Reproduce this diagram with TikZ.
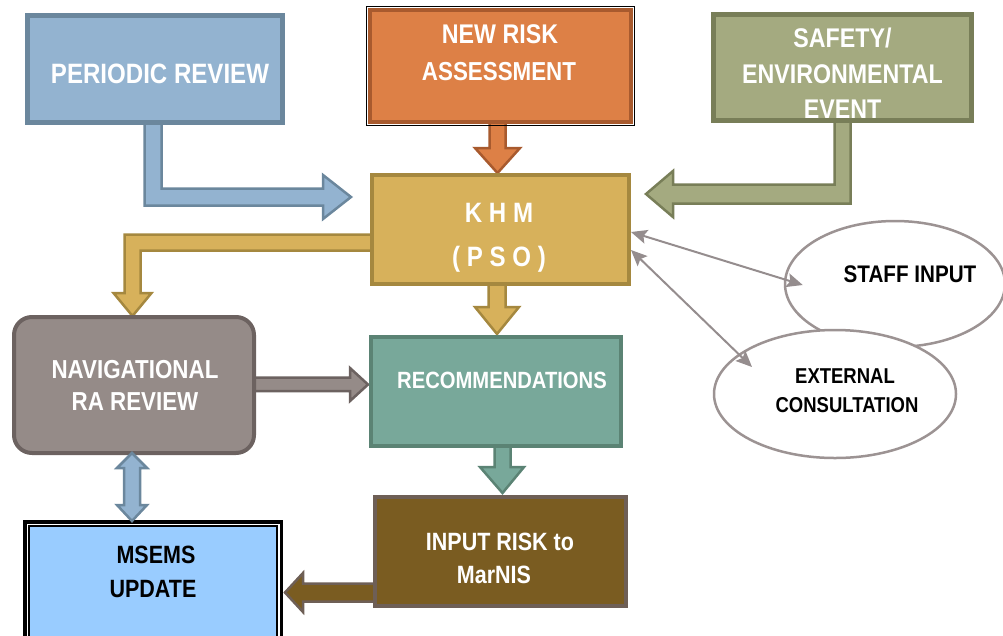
\documentclass[tikz,border=0pt]{standalone}
\usepackage{fontspec}
\newfontfamily\labfont{Liberation Sans}[FakeStretch=0.86]
\usetikzlibrary{arrows.meta,calc,shapes.geometric}

\definecolor{perFill}{HTML}{93B3D0}\definecolor{perLine}{HTML}{6B879D}
\definecolor{newFill}{HTML}{DD8046}\definecolor{newLine}{HTML}{A85A2E}
\definecolor{khmFill}{HTML}{D7B15B}\definecolor{khmLine}{HTML}{A5883F}
\definecolor{safFill}{HTML}{A4AA80}\definecolor{safLine}{HTML}{787E58}
\definecolor{navFill}{HTML}{958B88}\definecolor{navLine}{HTML}{6C6260}
\definecolor{recFill}{HTML}{78A89A}\definecolor{recLine}{HTML}{5B8374}
\definecolor{inpFill}{HTML}{7A5C21}\definecolor{inpLine}{HTML}{6E5F56}
\definecolor{msFill}{HTML}{99CCFF}
\definecolor{ovalLine}{HTML}{9C9393}
\definecolor{linkGrey}{HTML}{958D8E}

\newcommand{\lblsize}[1]{\fontsize{#1}{#1}\selectfont}

\begin{document}
\begin{tikzpicture}[x=1pt,y=-1pt,
  box/.style={draw, rectangle, line width=4pt, inner sep=0pt},
  lbl/.style={font=\labfont\bfseries, text=white, anchor=base, inner sep=0pt},
  dark/.style={lbl, text=black},
  blk/.style={line width=2.5pt, line join=miter},
  oval/.style={draw=ovalLine, fill=white, ellipse, line width=2.5pt, inner sep=0pt},
  link/.style={draw=linkGrey, line width=2pt,
    {Stealth[length=16pt,width=14pt,inset=3pt]}-{Stealth[length=16pt,width=14pt,inset=3pt]}}
]
\useasboundingbox (0,0) rectangle (1003,635);
\clip (0,0) rectangle (1003,635);

% ---- block arrows running under the boxes ----
% periodic review -> KHM
\filldraw[blk, draw=perLine, fill=perFill]
  (144.5,120) -- (144.5,205.5) -- (323,205.5) -- (323,219) -- (351,197)
  -- (323,175) -- (323,188.5) -- (161.5,188.5) -- (161.5,120) -- cycle;
% new risk assessment -> KHM
\filldraw[blk, draw=newLine, fill=newFill]
  (489.5,120) -- (489.5,148) -- (475,148) -- (497.5,173) -- (520,148)
  -- (505.5,148) -- (505.5,120) -- cycle;
% safety event -> KHM
\filldraw[blk, draw=safLine, fill=safFill]
  (850.5,118) -- (850.5,203.5) -- (673,203.5) -- (673,217) -- (646,194)
  -- (673,171) -- (673,184.5) -- (834.5,184.5) -- (834.5,118) -- cycle;
% KHM -> navigational review
\filldraw[blk, draw=khmLine, fill=khmFill]
  (375,234.5) -- (124.5,234.5) -- (124.5,293) -- (113.5,293) -- (132.5,316)
  -- (151.5,293) -- (140.5,293) -- (140.5,250.5) -- (375,250.5) -- cycle;
% KHM -> recommendations
\filldraw[blk, draw=khmLine, fill=khmFill]
  (488.5,282) -- (488.5,307) -- (475,307) -- (497,334) -- (519,307)
  -- (505.5,307) -- (505.5,282) -- cycle;
% navigational review -> recommendations
\filldraw[blk, draw=navLine, fill=navFill]
  (250,377.5) -- (350,377.5) -- (350,368) -- (368,384.5) -- (350,401)
  -- (350,391) -- (250,391) -- cycle;
% recommendations -> input risk
\filldraw[blk, draw=recLine, fill=recFill]
  (494.5,444) -- (494.5,467) -- (480,467) -- (502.5,493) -- (524,467)
  -- (510.5,467) -- (510.5,444) -- cycle;
% input risk -> MSEMS update
\filldraw[blk, draw=inpLine, fill=inpFill]
  (378,583.5) -- (303,583.5) -- (303,573) -- (285,592.5) -- (303,612)
  -- (303,601.5) -- (378,601.5) -- cycle;

% ---- boxes ----
\node[box, draw=perLine, fill=perFill, line width=5pt, minimum width=255pt, minimum height=107pt] (per) at (155,69) {};
\node[box, draw=newLine, fill=newFill, minimum width=261pt, minimum height=112pt] (newr) at (500.5,66) {};
\draw[black, line width=1.8pt] ($(newr.north west)+(-1.5,-1.5)$) rectangle ($(newr.south east)+(1.5,1.5)$);
\node[box, draw=khmLine, fill=khmFill, minimum width=257pt, minimum height=109pt] (khm) at (500.5,229.5) {};
\node[box, draw=safLine, fill=safFill, line width=5pt, minimum width=258pt, minimum height=106pt] (saf) at (842.5,67.5) {};
\node[box, draw=navLine, fill=navFill, rounded corners=18pt, minimum width=240pt, minimum height=136pt] (nav) at (134,385) {};
\node[box, draw=recLine, fill=recFill, minimum width=250pt, minimum height=109pt] (rec) at (496,391.5) {};
\node[box, draw=inpLine, fill=inpFill, minimum width=251pt, minimum height=109pt] (inp) at (500.5,551.5) {};
% MSEMS box: heavy outer rule, white gap, thin inner rule
\node[draw=black, line width=3.5pt, fill=white, rectangle, inner sep=0pt,
      minimum width=256.5pt, minimum height=130pt] (ms) at (153,586.75) {};
\draw[black, fill=msFill, line width=2pt] ($(ms.north west)+(6,6)$) rectangle ($(ms.south east)+(-6,-6)$);

% navigational review <-> MSEMS update
\filldraw[blk, draw=perLine, fill=perFill]
  (132,453) -- (147,468) -- (140,468) -- (140,505) -- (147,505) -- (132,521)
  -- (117,505) -- (124,505) -- (124,468) -- (117,468) -- cycle;

% ---- consultation ovals ----
\node[oval, minimum width=220pt, minimum height=126pt] (staff) at (895,284) {};
\node[oval, minimum width=242pt, minimum height=128pt] (ext) at (835,394) {};

% ---- thin two-way links ----
\draw[link] ([yshift=-2.5pt]khm.east) -- ([xshift=19pt,yshift=-1pt]staff.west);
\draw[link] ([yshift=-20.5pt]khm.east) -- ($(ext.center)+(-83,-27)$);

% ---- labels ----
\node[lbl, font=\labfont\bfseries\lblsize{28}] (perT) at (160,83) {PERIODIC REVIEW};
\node[lbl, font=\labfont\bfseries\lblsize{27}] (newT1) at (500,43) {NEW RISK};
\node[lbl, font=\labfont\bfseries\lblsize{26}] (newT2) at (499,80) {ASSESSMENT};
\node[lbl, font=\labfont\bfseries\lblsize{28}] (khmT1) at (499,222) {K H M};
\node[lbl, font=\labfont\bfseries\lblsize{28}] (khmT2) at (499,266) {( P S O )};
\node[lbl, font=\labfont\bfseries\lblsize{27}] (safT1) at (842.5,47) {SAFETY/};
\node[lbl, font=\labfont\bfseries\lblsize{27}] (safT2) at (842.5,83) {ENVIRONMENTAL};
\node[lbl, font=\labfont\bfseries\lblsize{27}] (safT3) at (842.5,118) {EVENT};
\node[lbl, font=\labfont\bfseries\lblsize{26}] (navT1) at (135,378) {NAVIGATIONAL};
\node[lbl, font=\labfont\bfseries\lblsize{26}] (navT2) at (135,410) {RA REVIEW};
\node[lbl, font=\labfont\bfseries\lblsize{23.5}] (recT) at (502,388) {RECOMMENDATIONS};
\node[lbl, font=\labfont\bfseries\lblsize{25}] (inpT1) at (500,550) {INPUT RISK to};
\node[lbl, font=\labfont\bfseries\lblsize{25}] (inpT2) at (494,583) {MarNIS};
\node[dark, font=\labfont\bfseries\lblsize{25}] (msT1) at (156,563) {MSEMS};
\node[dark, font=\labfont\bfseries\lblsize{25}] (msT2) at (153,597) {UPDATE};
\node[dark, font=\labfont\bfseries\lblsize{24}] (staffT) at (910,282) {STAFF INPUT};
\node[dark, font=\labfont\bfseries\lblsize{21.5}] (extT1) at (845,383) {EXTERNAL};
\node[dark, font=\labfont\bfseries\lblsize{21.5}] (extT2) at (847,412) {CONSULTATION};
\end{tikzpicture}
\end{document}
